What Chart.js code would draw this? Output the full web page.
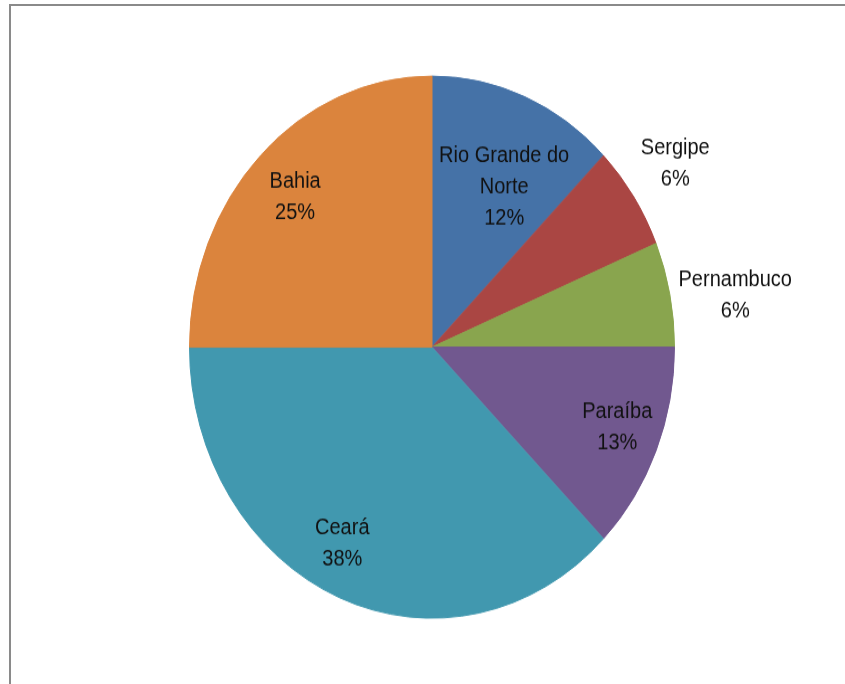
<!DOCTYPE html>
<html lang="pt">
<head>
    <meta charset="UTF-8">
    <title>Distribuição por estado</title>
    <script src="https://cdn.jsdelivr.net/npm/chart.js"></script>
    <style>
        html, body {
            margin: 0;
            padding: 0;
            background: #fff;
            overflow: hidden;
        }
        #frame {
            position: absolute;
            left: 9px;
            top: 4px;
            width: 900px;
            height: 720px;
            border-top: 2px solid #8a8a8a;
            border-left: 2px solid #8a8a8a;
        }
        #wrap {
            position: absolute;
            left: 0;
            top: 0;
            width: 845px;
            height: 612px;
            transform: scaleY(1.1176);
            transform-origin: 0 0;
        }
    </style>
</head>
<body>
    <div id="frame"></div>
    <div id="wrap">
        <canvas id="grafico" width="845" height="612"></canvas>
    </div>

    <script>
        const estados = ["Rio Grande do Norte", "Sergipe", "Pernambuco", "Paraíba", "Ceará", "Bahia"];
        const valores = [2, 1, 1, 2, 6, 4];
        const percentuais = ["12%", "6%", "6%", "13%", "38%", "25%"];
        const cores = ["#4572A7", "#AA4643", "#89A54E", "#71588F", "#4198AF", "#DB843D"];
        // label placement: fraction of the radius and angle shift (degrees) from the slice middle
        const posRotulo = [0.66, 1.21, 1.265, 0.82, 0.815, 0.79];
        const desvioRotulo = [4.3, -0.25, 2.55, -1.2, 4.5, -0.6];

        const fonte = '20px "Liberation Sans", Arial, sans-serif';

        function quebrar(ctx, texto, largura) {
            const palavras = texto.split(" ");
            const linhas = [];
            let atual = "";
            palavras.forEach(p => {
                const teste = atual ? atual + " " + p : p;
                if (atual && ctx.measureText(teste).width > largura) {
                    linhas.push(atual);
                    atual = p;
                } else {
                    atual = teste;
                }
            });
            if (atual) linhas.push(atual);
            return linhas;
        }

        const rotulos = {
            id: "rotulos",
            afterDatasetsDraw(chart) {
                const ctx = chart.ctx;
                const arcos = chart.getDatasetMeta(0).data;
                ctx.save();
                ctx.font = fonte;
                ctx.fillStyle = "#111";
                ctx.textAlign = "center";
                ctx.textBaseline = "middle";
                arcos.forEach((arco, i) => {
                    const p = arco.getProps(["x", "y", "startAngle", "endAngle", "outerRadius"], true);
                    const meio = (p.startAngle + p.endAngle) / 2 + desvioRotulo[i] * Math.PI / 180;
                    const r = p.outerRadius * posRotulo[i];
                    const cx = p.x + Math.cos(meio) * r;
                    const cy = p.y + Math.sin(meio) * r;
                    const linhas = quebrar(ctx, estados[i], 140).concat([percentuais[i]]);
                    const alt = 28;
                    const y0 = cy - (linhas.length - 1) * alt / 2;
                    linhas.forEach((l, k) => ctx.fillText(l, cx, y0 + k * alt));
                });
                ctx.restore();
            }
        };

        const ctx = document.getElementById("grafico").getContext("2d");
        new Chart(ctx, {
            type: "pie",
            data: {
                labels: estados,
                datasets: [{
                    data: valores,
                    backgroundColor: cores,
                    borderColor: cores,
                    borderWidth: 1
                }]
            },
            options: {
                responsive: false,
                animation: false,
                layout: {
                    padding: { left: 189, right: 170, top: 67.6, bottom: 58.4 }
                },
                plugins: {
                    legend: { display: false },
                    tooltip: { enabled: false }
                }
            },
            plugins: [rotulos]
        });
    </script>
</body>
</html>
